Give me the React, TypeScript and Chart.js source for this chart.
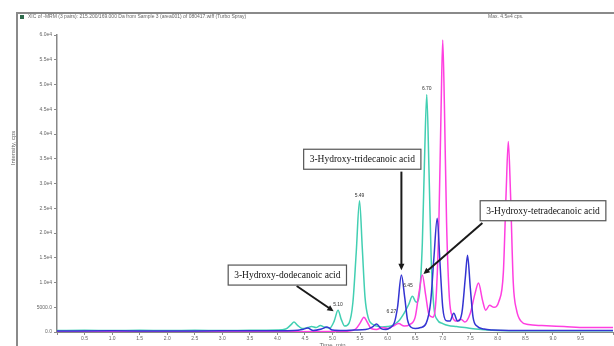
import React, { useEffect, useRef } from 'react';
import { Chart, registerables } from 'chart.js';

Chart.register(...registerables);

// ---- Data (time in min, intensity in cps) ----
const tealTime = [0, 0.5, 1.0, 1.5, 2.0, 2.5, 3.0, 3.5, 4.0, 4.15, 4.25, 4.3, 4.36, 4.45, 4.55, 4.62, 4.7, 4.78, 4.85, 4.95, 5.03, 5.1, 5.16, 5.22, 5.3, 5.37, 5.43, 5.49, 5.54, 5.59, 5.65, 5.72, 5.8, 5.9, 6.0, 6.1, 6.2, 6.3, 6.38, 6.45, 6.52, 6.58, 6.63, 6.67, 6.71, 6.75, 6.79, 6.84, 6.9, 7.0, 7.1, 7.25, 7.4, 7.6, 7.8, 8.0, 8.5, 9.0, 9.5, 10.1];
const tealValue = [300, 350, 300, 350, 300, 350, 300, 350, 400, 600, 1500, 2000, 1400, 700, 900, 1100, 900, 1300, 1000, 800, 2200, 4400, 2500, 1200, 1800, 6000, 16000, 26500, 17000, 7000, 2800, 1600, 1200, 1000, 1100, 1400, 2200, 3800, 5500, 7200, 6000, 8000, 18000, 35000, 48000, 33000, 15000, 5000, 2500, 1700, 1300, 1100, 900, 600, 400, 300, 250, 250, 250, 250];

const pinkTime = [0, 1.0, 2.0, 3.0, 4.0, 5.0, 5.3, 5.42, 5.5, 5.57, 5.63, 5.7, 5.8, 5.9, 6.0, 6.1, 6.2, 6.3, 6.4, 6.5, 6.57, 6.63, 6.69, 6.75, 6.82, 6.88, 6.93, 6.97, 7.0, 7.03, 7.07, 7.12, 7.18, 7.25, 7.33, 7.4, 7.5, 7.58, 7.65, 7.72, 7.78, 7.85, 7.93, 8.02, 8.1, 8.15, 8.19, 8.23, 8.28, 8.34, 8.42, 8.55, 8.8, 9.2, 9.6, 10.1];
const pinkValue = [50, 60, 50, 60, 50, 100, 200, 600, 1800, 3000, 2000, 700, 500, 900, 700, 1200, 1700, 1200, 1500, 3000, 8000, 11500, 7500, 3500, 3000, 7000, 22000, 45000, 59000, 46000, 22000, 7000, 3000, 2200, 2600, 2000, 3800, 7500, 9900, 6500, 4400, 5400, 5000, 6200, 12000, 28000, 38500, 28000, 10000, 4400, 2200, 1500, 1300, 1100, 900, 900];

const blueTime = [0, 1.0, 2.0, 3.0, 4.0, 4.3, 4.45, 4.55, 4.65, 4.8, 4.9, 5.0, 5.2, 5.4, 5.6, 5.72, 5.8, 5.88, 5.97, 6.05, 6.12, 6.18, 6.25, 6.31, 6.36, 6.42, 6.5, 6.6, 6.7, 6.78, 6.84, 6.9, 6.95, 7.0, 7.06, 7.13, 7.2, 7.27, 7.35, 7.41, 7.45, 7.5, 7.55, 7.62, 7.75, 7.9, 8.2, 9.0, 10.1];
const blueValue = [200, 250, 200, 250, 250, 300, 500, 800, 300, 600, 1000, 400, 300, 400, 500, 1000, 1600, 700, 500, 900, 1800, 5000, 11500, 7000, 2500, 1000, 700, 900, 1800, 6000, 15000, 23000, 14000, 5000, 2300, 2200, 3800, 2200, 4000, 11000, 15500, 9000, 3000, 1200, 600, 400, 300, 300, 300];

const peakLabels = [
  { text: '5.10', t: 5.1, v: 4400 },
  { text: '5.49', t: 5.49, v: 26500 },
  { text: '6.70', t: 6.71, v: 48000 },
  { text: '6.27', t: 6.07, v: 3000 },
  { text: '6.45', t: 6.37, v: 8200 },
];

const annotations = [
  { text: '3-Hydroxy-dodecanoic acid', cx: 4.18, cy: 11500, tail: [4.35, 9300], tip: [5.02, 4200] },
  { text: '3-Hydroxy-tridecanoic acid', cx: 5.54, cy: 34900, tail: [6.25, 32400], tip: [6.25, 12500] },
  { text: '3-Hydroxy-tetradecanoic acid', cx: 8.82, cy: 24500, tail: [7.72, 22000], tip: [6.65, 11700] },
];

const titleText = 'XIC of -MRM (3 pairs): 215.200/169.000 Da from Sample 3 (area001) of 080417.wiff (Turbo Spray)';
const maxText = 'Max. 4.5e4 cps.';

const toPoints = (ts: number[], vs: number[]) => ts.map((t, i) => ({ x: t, y: vs[i] }));

function drawArrow(ctx: CanvasRenderingContext2D, x1: number, y1: number, x2: number, y2: number) {
  const ang = Math.atan2(y2 - y1, x2 - x1);
  const head = 7;
  ctx.beginPath();
  ctx.moveTo(x1, y1);
  ctx.lineTo(x2 - Math.cos(ang) * head * 0.8, y2 - Math.sin(ang) * head * 0.8);
  ctx.stroke();
  ctx.beginPath();
  ctx.moveTo(x2, y2);
  ctx.lineTo(x2 - head * Math.cos(ang - 0.45), y2 - head * Math.sin(ang - 0.45));
  ctx.lineTo(x2 - head * Math.cos(ang + 0.45), y2 - head * Math.sin(ang + 0.45));
  ctx.closePath();
  ctx.fill();
}

const overlayPlugin = {
  id: 'overlay',
  afterDraw(chart: any) {
    const { ctx } = chart;
    const xs = chart.scales.x;
    const ys = chart.scales.y;
    ctx.save();
    // outer frame
    ctx.strokeStyle = '#8a8a8a';
    ctx.lineWidth = 2;
    ctx.beginPath();
    ctx.moveTo(17, 346);
    ctx.lineTo(17, 13);
    ctx.lineTo(614, 13);
    ctx.stroke();
    ctx.fillStyle = '#2f6b4c';
    ctx.fillRect(20, 15, 4, 4);
    // title
    ctx.fillStyle = '#666';
    ctx.font = '5px "Liberation Sans", Arial, sans-serif';
    ctx.textBaseline = 'middle';
    ctx.textAlign = 'left';
    ctx.fillText(titleText, 28, 17);
    ctx.fillText(maxText, 488, 17);
    // y title
    ctx.save();
    ctx.translate(13, 148);
    ctx.rotate(-Math.PI / 2);
    ctx.textAlign = 'center';
    ctx.font = '6px "Liberation Sans", Arial, sans-serif';
    ctx.fillText('Intensity, cps', 0, 0);
    ctx.restore();
    // x title
    ctx.textAlign = 'center';
    ctx.font = '6px "Liberation Sans", Arial, sans-serif';
    ctx.fillText('Time, min', xs.getPixelForValue(5.0), 345);
    // peak labels
    ctx.fillStyle = '#333';
    ctx.font = '5px "Liberation Sans", Arial, sans-serif';
    ctx.textBaseline = 'bottom';
    for (const p of peakLabels) {
      ctx.fillText(p.text, xs.getPixelForValue(p.t), ys.getPixelForValue(p.v) - 3);
    }
    // annotations
    for (const a of annotations) {
      ctx.strokeStyle = '#1a1a1a';
      ctx.fillStyle = '#1a1a1a';
      ctx.lineWidth = 2;
      drawArrow(ctx, xs.getPixelForValue(a.tail[0]), ys.getPixelForValue(a.tail[1]),
        xs.getPixelForValue(a.tip[0]), ys.getPixelForValue(a.tip[1]));
    }
    for (const a of annotations) {
      ctx.font = '9.5px "Liberation Serif", "Times New Roman", serif';
      const w = ctx.measureText(a.text).width + 12;
      const h = 20;
      const cx = xs.getPixelForValue(a.cx);
      const cy = ys.getPixelForValue(a.cy);
      ctx.fillStyle = '#fff';
      ctx.fillRect(cx - w / 2, cy - h / 2, w, h);
      ctx.strokeStyle = '#555';
      ctx.lineWidth = 1.2;
      ctx.strokeRect(cx - w / 2, cy - h / 2, w, h);
      ctx.fillStyle = '#111';
      ctx.textAlign = 'center';
      ctx.textBaseline = 'middle';
      ctx.fillText(a.text, cx, cy + 0.5);
    }
    ctx.restore();
  },
};

export default function App() {
  const ref = useRef<HTMLCanvasElement | null>(null);
  useEffect(() => {
    if (!ref.current) return;
    const chart = new Chart(ref.current, {
      type: 'line',
      data: {
        datasets: [
          { label: 'blue', data: toPoints(blueTime, blueValue), borderColor: '#3434d2', borderWidth: 1.5 },
          { label: 'pink', data: toPoints(pinkTime, pinkValue), borderColor: '#ff3fe0', borderWidth: 1.5 },
          { label: 'teal', data: toPoints(tealTime, tealValue), borderColor: '#42cfb2', borderWidth: 1.5 },
        ],
      },
      options: {
        responsive: false,
        animation: false,
        devicePixelRatio: 1,
        parsing: true,
        layout: { padding: { top: 35, left: 0, right: 0, bottom: 0 } },
        elements: {
          point: { radius: 0 },
          line: { cubicInterpolationMode: 'monotone', fill: false },
        },
        plugins: { legend: { display: false }, tooltip: { enabled: false } },
        scales: {
          x: {
            type: 'linear',
            min: 0,
            max: 10.09,
            afterFit: (s: any) => { s.height = 14; },
            border: { color: '#888', width: 1 },
            grid: { drawOnChartArea: false, drawTicks: true, tickLength: 3, color: '#888' },
            ticks: {
              stepSize: 0.5,
              autoSkip: false,
              maxRotation: 0,
              padding: 1,
              color: '#666',
              font: { size: 5, family: 'Liberation Sans' },
              callback: (v: any) => (v === 0 || v > 9.9 ? '' : Number(v).toFixed(1)),
            },
          },
          y: {
            type: 'linear',
            min: 0,
            max: 60000,
            afterFit: (s: any) => { s.width = 57; },
            border: { color: '#888', width: 1.5 },
            grid: { drawOnChartArea: false, drawTicks: true, tickLength: 3, color: '#888' },
            ticks: {
              stepSize: 5000,
              padding: 2,
              color: '#666',
              font: { size: 5, family: 'Liberation Sans' },
              callback: (v: any) => {
                const n = Number(v);
                if (n === 0) return '0.0';
                if (n === 5000) return '5000.0';
                return (n / 10000).toFixed(1) + 'e4';
              },
            },
          },
        },
      },
      plugins: [overlayPlugin],
    });
    return () => chart.destroy();
  }, []);
  return (
    <div style={{ position: 'fixed', left: 0, top: 0, width: 614, height: 346, background: '#fff' }}>
      <canvas ref={ref} width={614} height={346} style={{ display: 'block' }} />
    </div>
  );
}
